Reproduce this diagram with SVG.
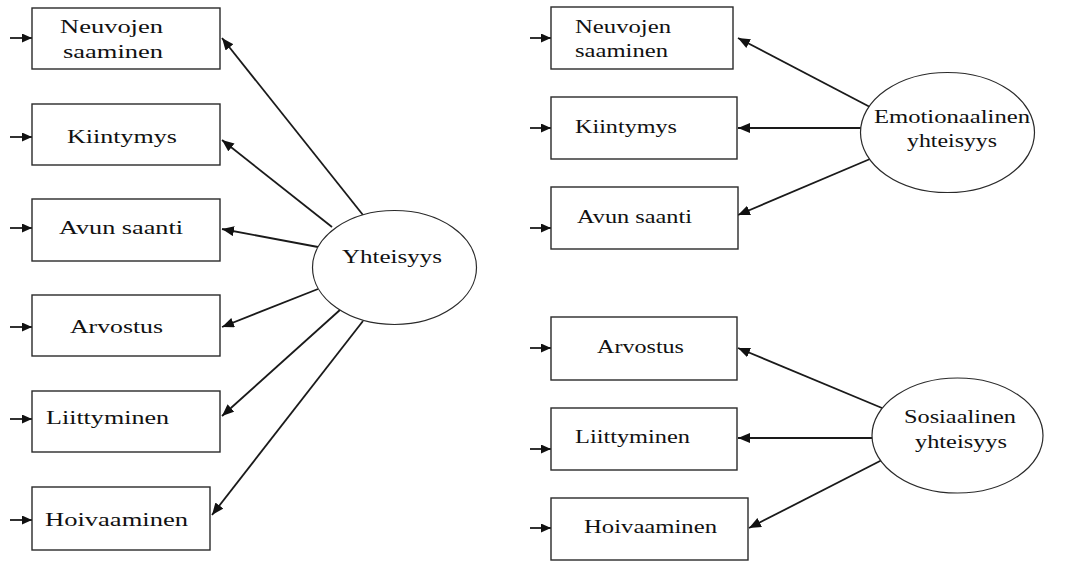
<svg xmlns="http://www.w3.org/2000/svg" width="1081" height="563" viewBox="0 0 1081 563">
  <style>
    .box { fill: #fff; stroke: #2a2a2a; stroke-width: 1.4; }
    .lat { fill: #fff; stroke: #2a2a2a; stroke-width: 1.2; }
    .lbl { font-family: "Liberation Serif", "DejaVu Serif", serif; font-size: 19px; fill: #111; }
    .edge { stroke: #1a1a1a; stroke-width: 1.8; fill: none; marker-end: url(#arrow); }
    .in { stroke: #1a1a1a; stroke-width: 1.8; fill: none; marker-end: url(#arrowSmall); }
  </style>
  <defs>
    <marker id="arrow" markerUnits="userSpaceOnUse" markerWidth="13" markerHeight="11" refX="12" refY="5" orient="auto">
      <path d="M0,0 L12,5 L0,10 z" fill="#111"/>
    </marker>
    <marker id="arrowSmall" markerUnits="userSpaceOnUse" markerWidth="11" markerHeight="10" refX="10" refY="4.5" orient="auto">
      <path d="M0,0 L10,4.5 L0,9 z" fill="#111"/>
    </marker>
  </defs>

  <!-- connectors -->
  <g id="connectors">
    <!-- error inputs, left model -->
    <line class="in" x1="10" y1="38" x2="32" y2="38"/>
    <line class="in" x1="10" y1="137" x2="32" y2="137"/>
    <line class="in" x1="10" y1="228" x2="32" y2="228"/>
    <line class="in" x1="10" y1="327" x2="32" y2="327"/>
    <line class="in" x1="10" y1="419" x2="32" y2="419"/>
    <line class="in" x1="10" y1="520" x2="32" y2="520"/>
    <!-- error inputs, right model -->
    <line class="in" x1="530" y1="38" x2="551" y2="38"/>
    <line class="in" x1="530" y1="128" x2="551" y2="128"/>
    <line class="in" x1="530" y1="228" x2="551" y2="228"/>
    <line class="in" x1="530" y1="348" x2="551" y2="348"/>
    <line class="in" x1="530" y1="449" x2="551" y2="449"/>
    <line class="in" x1="530" y1="528" x2="551" y2="528"/>
    <!-- Yhteisyys loadings -->
    <line class="edge" x1="363" y1="215" x2="222" y2="38"/>
    <line class="edge" x1="332" y1="227" x2="222" y2="140"/>
    <line class="edge" x1="318" y1="247" x2="222" y2="229"/>
    <line class="edge" x1="318" y1="289" x2="222" y2="327"/>
    <line class="edge" x1="341" y1="309" x2="222" y2="416"/>
    <line class="edge" x1="363" y1="321" x2="212" y2="515"/>
    <!-- Emotionaalinen yhteisyys loadings -->
    <line class="edge" x1="870" y1="107" x2="738" y2="38"/>
    <line class="edge" x1="862" y1="128" x2="738" y2="128"/>
    <line class="edge" x1="870" y1="159" x2="738" y2="215"/>
    <!-- Sosiaalinen yhteisyys loadings -->
    <line class="edge" x1="882" y1="408" x2="738" y2="348"/>
    <line class="edge" x1="872" y1="438" x2="738" y2="438"/>
    <line class="edge" x1="882" y1="460" x2="749" y2="528"/>
  </g>

  <!-- left model indicators -->
  <g id="l-neuvojen">
    <rect class="box" x="32" y="8" width="188" height="61"/>
    <text class="lbl" x="60" y="33" textLength="103" lengthAdjust="spacingAndGlyphs">Neuvojen</text>
    <text class="lbl" x="63" y="58" textLength="100" lengthAdjust="spacingAndGlyphs">saaminen</text>
  </g>
  <g id="l-kiintymys">
    <rect class="box" x="32" y="104" width="188" height="61"/>
    <text class="lbl" x="67" y="143" textLength="110" lengthAdjust="spacingAndGlyphs">Kiintymys</text>
  </g>
  <g id="l-avun">
    <rect class="box" x="32" y="199" width="188" height="62"/>
    <text class="lbl" x="59" y="234" textLength="124" lengthAdjust="spacingAndGlyphs">Avun saanti</text>
  </g>
  <g id="l-arvostus">
    <rect class="box" x="32" y="295" width="188" height="61"/>
    <text class="lbl" x="70" y="333" textLength="93" lengthAdjust="spacingAndGlyphs">Arvostus</text>
  </g>
  <g id="l-liittyminen">
    <rect class="box" x="32" y="391" width="188" height="61"/>
    <text class="lbl" x="46" y="424" textLength="123" lengthAdjust="spacingAndGlyphs">Liittyminen</text>
  </g>
  <g id="l-hoivaaminen">
    <rect class="box" x="32" y="487" width="178" height="63"/>
    <text class="lbl" x="45" y="526" textLength="143" lengthAdjust="spacingAndGlyphs">Hoivaaminen</text>
  </g>
  <g id="yhteisyys">
    <ellipse class="lat" cx="394.5" cy="267.5" rx="82" ry="57"/>
    <text class="lbl" x="342" y="263" textLength="100" lengthAdjust="spacingAndGlyphs">Yhteisyys</text>
  </g>

  <!-- right model indicators -->
  <g id="r-neuvojen">
    <rect class="box" x="551" y="7" width="182" height="62"/>
    <text class="lbl" x="575" y="33" textLength="96" lengthAdjust="spacingAndGlyphs">Neuvojen</text>
    <text class="lbl" x="575" y="57" textLength="93" lengthAdjust="spacingAndGlyphs">saaminen</text>
  </g>
  <g id="r-kiintymys">
    <rect class="box" x="551" y="97" width="186" height="62"/>
    <text class="lbl" x="575" y="133" textLength="102" lengthAdjust="spacingAndGlyphs">Kiintymys</text>
  </g>
  <g id="r-avun">
    <rect class="box" x="551" y="187" width="187" height="62"/>
    <text class="lbl" x="577" y="223" textLength="115" lengthAdjust="spacingAndGlyphs">Avun saanti</text>
  </g>
  <g id="emotionaalinen">
    <ellipse class="lat" cx="947.5" cy="132.5" rx="87" ry="60"/>
    <text class="lbl" x="874" y="123" textLength="156" lengthAdjust="spacingAndGlyphs">Emotionaalinen</text>
    <text class="lbl" x="907" y="147" textLength="90" lengthAdjust="spacingAndGlyphs">yhteisyys</text>
  </g>
  <g id="r-arvostus">
    <rect class="box" x="551" y="317" width="186" height="63"/>
    <text class="lbl" x="597" y="353" textLength="87" lengthAdjust="spacingAndGlyphs">Arvostus</text>
  </g>
  <g id="r-liittyminen">
    <rect class="box" x="551" y="408" width="186" height="62"/>
    <text class="lbl" x="575" y="443" textLength="115" lengthAdjust="spacingAndGlyphs">Liittyminen</text>
  </g>
  <g id="r-hoivaaminen">
    <rect class="box" x="551" y="498" width="197" height="62"/>
    <text class="lbl" x="584" y="533" textLength="133" lengthAdjust="spacingAndGlyphs">Hoivaaminen</text>
  </g>
  <g id="sosiaalinen">
    <ellipse class="lat" cx="957.5" cy="435.5" rx="85.5" ry="57.5"/>
    <text class="lbl" x="904" y="423" textLength="112" lengthAdjust="spacingAndGlyphs">Sosiaalinen</text>
    <text class="lbl" x="915" y="448" textLength="92" lengthAdjust="spacingAndGlyphs">yhteisyys</text>
  </g>
</svg>
